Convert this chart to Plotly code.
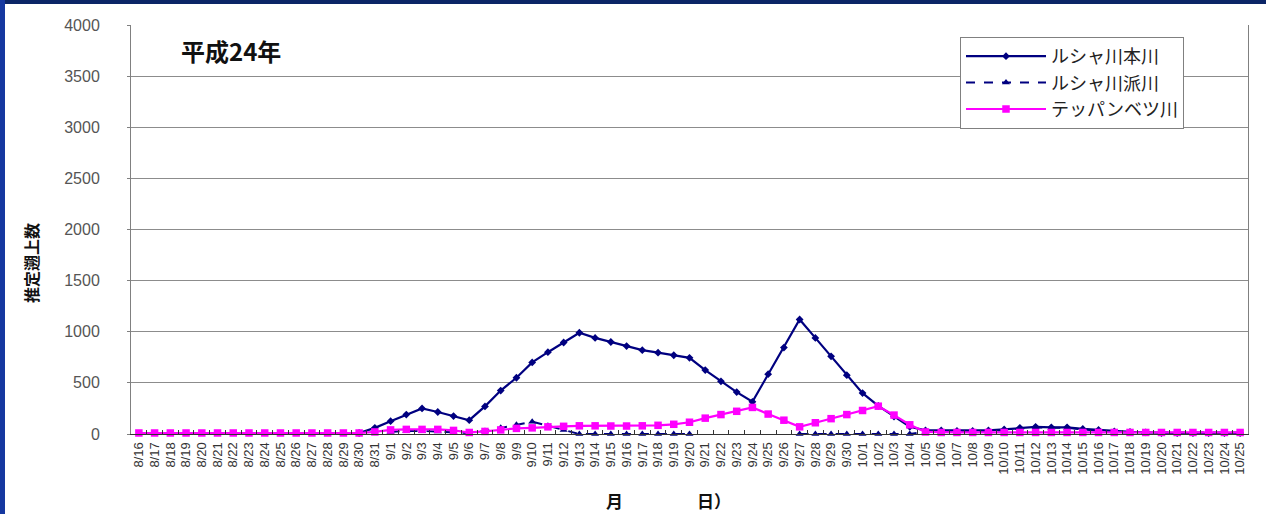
import plotly.graph_objects as go

# ---- data -------------------------------------------------------------
dates = [
    "8/16", "8/17", "8/18", "8/19", "8/20", "8/21", "8/22", "8/23", "8/24", "8/25",
    "8/26", "8/27", "8/28", "8/29", "8/30", "8/31",
    "9/1", "9/2", "9/3", "9/4", "9/5", "9/6", "9/7", "9/8", "9/9", "9/10",
    "9/11", "9/12", "9/13", "9/14", "9/15", "9/16", "9/17", "9/18", "9/19", "9/20",
    "9/21", "9/22", "9/23", "9/24", "9/25", "9/26", "9/27", "9/28", "9/29", "9/30",
    "10/1", "10/2", "10/3", "10/4", "10/5", "10/6", "10/7", "10/8", "10/9", "10/10",
    "10/11", "10/12", "10/13", "10/14", "10/15", "10/16", "10/17", "10/18", "10/19", "10/20",
    "10/21", "10/22", "10/23", "10/24", "10/25",
]

# ルシャ川本川
rusha_main = (
    [None] * 14
    + [10, 60]
    + [125, 190, 250, 215, 175, 135, 270, 425, 550, 700,
       800, 895, 990, 940, 900, 860, 820, 795, 770, 745,
       625, 515, 410, 315, 585, 845, 1120, 940, 760, 575]
    + [400, 275, 170, 70, 35, 35, 30, 30, 35, 45,
       60, 70, 65, 65, 50, 40, 25, 20, 15, 10,
       10, 10, 10, 10, 10]
)

# ルシャ川派川
rusha_branch = (
    [None] * 16
    + [20, 30, 30, 25, 15, 10, 30, 60, 90, 120,
       80, 40, 0, 0, 0, 0, 0, 0, 0, 0,
       None, None, None, None, None, None, 0, 0, 0, 0]
    + [0, 0, 0, 0, 20, 20, 20, 20, 20, 40,
       55, 65, 60, 60, 45, 30, 15, 15, 15, 15,
       15, 15, 15, 15, 15]
)

# テッパンベツ川
teppanbetsu = (
    [10] * 15
    + [20]
    + [40, 45, 45, 45, 35, 15, 25, 40, 55, 60,
       70, 75, 80, 80, 78, 78, 80, 85, 95, 115,
       155, 190, 222, 260, 195, 135, 70, 110, 150, 190]
    + [230, 272, 185, 90, 20, 15, 15, 15, 15, 15,
       15, 15, 15, 15, 15, 15, 15, 15, 15, 15,
       15, 15, 15, 15, 15]
)

y_ticks = [0, 500, 1000, 1500, 2000, 2500, 3000, 3500, 4000]

# ---- geometry helpers (pixel -> paper) --------------------------------
W, H = 1266, 514
L, R, T, B = 131, 18, 25, 80
PW, PH = W - L - R, H - T - B


def px_x(px):
    return (px - L) / PW


def px_y(py):
    return (H - B - py) / PH


NAVY = "#000080"
MAGENTA = "#FF00FF"
JP = "Noto Sans CJK JP"
LAT = "Liberation Sans"

fig = go.Figure()

fig.add_trace(go.Scatter(
    x=dates, y=rusha_main, name="ルシャ川本川", mode="lines+markers",
    line=dict(color=NAVY, width=2.2),
    marker=dict(symbol="diamond", size=6, color=NAVY),
    cliponaxis=False,
))
fig.add_trace(go.Scatter(
    x=dates, y=rusha_branch, name="ルシャ川派川", mode="lines+markers",
    line=dict(color=NAVY, width=2, dash="dash"),
    marker=dict(symbol="triangle-up", size=7, color=NAVY),
    cliponaxis=False,
))
fig.add_trace(go.Scatter(
    x=dates, y=teppanbetsu, name="テッパンベツ川", mode="lines+markers",
    line=dict(color=MAGENTA, width=2.2),
    marker=dict(symbol="square", size=7.5, color=MAGENTA),
    cliponaxis=False,
))

# frame bands along the top and left edge of the slide
shapes = [
    dict(type="rect", xref="paper", yref="paper", layer="above",
         x0=px_x(-5), x1=px_x(W + 5), y0=px_y(4), y1=px_y(-5),
         fillcolor="#0b2566", line=dict(width=0)),
    dict(type="rect", xref="paper", yref="paper", layer="above",
         x0=px_x(-5), x1=px_x(5), y0=px_y(H + 5), y1=px_y(-5),
         fillcolor="#1538a0", line=dict(width=0)),
]

annotations = [
    dict(text="<b>平成24年</b>", xref="paper", yref="paper", x=px_x(231), y=px_y(51),
         showarrow=False, font=dict(family=JP, size=24, color="#111"),
         xanchor="center", yanchor="middle"),
    dict(text="<b>推定遡上数</b>", xref="paper", yref="paper", x=px_x(31), y=px_y(263),
         showarrow=False, textangle=-90, font=dict(family=JP, size=16, color="#111"),
         xanchor="center", yanchor="middle"),
    dict(text="<b>月</b>", xref="paper", yref="paper", x=px_x(614), y=px_y(500),
         showarrow=False, font=dict(family=JP, size=17, color="#111"),
         xanchor="center", yanchor="middle"),
    dict(text="<b>日）</b>", xref="paper", yref="paper", x=px_x(714), y=px_y(500),
         showarrow=False, font=dict(family=JP, size=17, color="#111"),
         xanchor="center", yanchor="middle"),
]

fig.update_layout(
    width=W, height=H,
    margin=dict(l=L, r=R, t=T, b=B, pad=0),
    paper_bgcolor="white", plot_bgcolor="white",
    showlegend=True,
    legend=dict(
        x=px_x(960), y=px_y(37), xanchor="left", yanchor="top",
        bgcolor="white", bordercolor="#808080", borderwidth=1,
        font=dict(family=JP, size=18, color="#222"),
        itemwidth=80, tracegroupgap=0,
    ),
    shapes=shapes,
    annotations=annotations,
    xaxis=dict(
        type="category", range=[-0.5, len(dates) - 0.5],
        tickmode="array", tickvals=dates, ticktext=dates,
        tickangle=-90, tickson="boundaries",
        ticks="inside", ticklen=4, tickcolor="#333",
        showline=True, linecolor="#333", linewidth=1,
        showgrid=False, zeroline=False,
        tickfont=dict(family=LAT, size=13, color="#333"),
        ticklabelstandoff=2,
    ),
    yaxis=dict(
        range=[0, 4000], tickmode="array", tickvals=y_ticks,
        ticks="outside", ticklen=3, tickcolor="#808080",
        showline=True, linecolor="#808080", linewidth=1, mirror=True,
        showgrid=True, gridcolor="#8c8c8c", gridwidth=1,
        zeroline=False,
        tickfont=dict(family=LAT, size=16, color="#555"),
        ticklabelstandoff=24,
    ),
)

fig.write_html("out.html")
